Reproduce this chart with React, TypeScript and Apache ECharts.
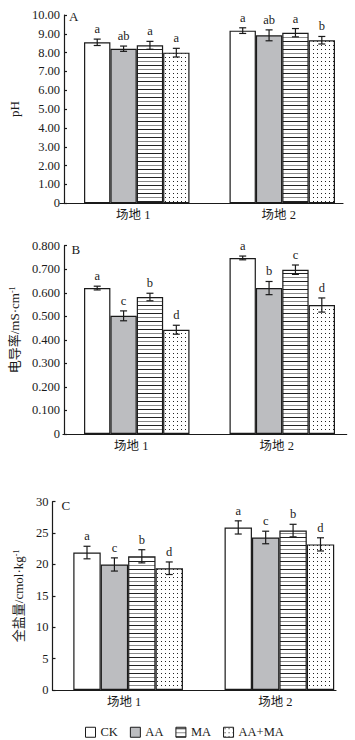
import React, { useEffect, useRef } from 'react';
import * as echarts from 'echarts';

const sites = ['场地 1', '场地 2'];
const treatments = ['CK', 'AA', 'MA', 'AA+MA'];

// Panel A: pH
const phCK = [8.55, 9.17];
const phAA = [8.21, 8.92];
const phMA = [8.39, 9.06];
const phAAMA = [8.0, 8.66];
const phErrCK = [0.17, 0.15];
const phErrAA = [0.14, 0.29];
const phErrMA = [0.21, 0.22];
const phErrAAMA = [0.23, 0.2];
const phLetCK = ['a', 'a'];
const phLetAA = ['ab', 'ab'];
const phLetMA = ['a', 'a'];
const phLetAAMA = ['a', 'b'];

// Panel B: electrical conductivity (mS/cm)
const ecCK = [0.62, 0.748];
const ecAA = [0.502, 0.62];
const ecMA = [0.582, 0.698];
const ecAAMA = [0.443, 0.548];
const ecErrCK = [0.008, 0.008];
const ecErrAA = [0.021, 0.028];
const ecErrMA = [0.016, 0.02];
const ecErrAAMA = [0.019, 0.03];
const ecLetCK = ['a', 'a'];
const ecLetAA = ['c', 'b'];
const ecLetMA = ['b', 'c'];
const ecLetAAMA = ['d', 'd'];

// Panel C: total salt (cmol/kg)
const tsCK = [21.9, 25.9];
const tsAA = [20.0, 24.3];
const tsMA = [21.3, 25.4];
const tsAAMA = [19.4, 23.2];
const tsErrCK = [1.0, 1.05];
const tsErrAA = [1.05, 1.0];
const tsErrMA = [1.05, 1.0];
const tsErrAAMA = [1.0, 1.05];
const tsLetCK = ['a', 'a'];
const tsLetAA = ['c', 'c'];
const tsLetMA = ['b', 'b'];
const tsLetAAMA = ['d', 'd'];

const FONT = "'Liberation Serif', 'Noto Sans CJK SC', serif";
const INK = '#1a1a1a';
const GAP = 0.275;

function makePattern(kind: string) {
  const c = document.createElement('canvas');
  if (kind === 'stripe') {
    c.width = 4;
    c.height = 8;
    const ctx = c.getContext('2d')!;
    ctx.fillStyle = '#ffffff';
    ctx.fillRect(0, 0, 4, 8);
    ctx.fillStyle = '#222222';
    ctx.fillRect(0, 1, 4, 1);
    ctx.fillStyle = '#8a8a8a';
    ctx.fillRect(0, 5, 4, 1);
  } else {
    c.width = 4;
    c.height = 4;
    const ctx = c.getContext('2d')!;
    ctx.fillStyle = '#ffffff';
    ctx.fillRect(0, 0, 4, 4);
    ctx.fillStyle = '#222222';
    ctx.fillRect(1, 1, 1, 1);
  }
  return { image: c.toDataURL(), repeat: 'repeat', imageWidth: c.width, imageHeight: c.height } as any;
}

export default function App() {
  const ref = useRef<HTMLDivElement>(null);
  useEffect(() => {
    if (!ref.current) return;
    const chart = echarts.init(ref.current, undefined, { renderer: 'svg' });
    const colors = ['#ffffff', '#bcbdc0', makePattern('stripe'), makePattern('dots')];

    const panels = [
      {
        vals: [phCK, phAA, phMA, phAAMA],
        errs: [phErrCK, phErrAA, phErrMA, phErrAAMA],
        lets: [phLetCK, phLetAA, phLetMA, phLetAAMA],
        left: 60, top: 15, lineW: 283, max: 10, interval: 1,
        fmt: (v: number) => (v === 0 ? '0' : v.toFixed(2)),
        name: 'pH', nameGap: 39, namePad: [0, 0, 0, 0], labelPad: [0, 7, 0, 0], labelMargin: 5,
        letter: 'A', letterX: 69, letterY: 16,
      },
      {
        vals: [ecCK, ecAA, ecMA, ecAAMA],
        errs: [ecErrCK, ecErrAA, ecErrMA, ecErrAAMA],
        lets: [ecLetCK, ecLetAA, ecLetMA, ecLetAAMA],
        left: 63, top: 245.7, lineW: 283.7, max: 0.8, interval: 0.1,
        fmt: (v: number) => (v === 0 ? '0' : v.toFixed(3)),
        name: '电导率/mS·cm{sup|-1}', nameGap: 40, namePad: [0, 0, 0, 20], labelPad: [0, 11, 0, 0], labelMargin: 6,
        letter: 'B', letterX: 71.5, letterY: 249,
      },
      {
        vals: [tsCK, tsAA, tsMA, tsAAMA],
        errs: [tsErrCK, tsErrAA, tsErrMA, tsErrAAMA],
        lets: [tsLetCK, tsLetAA, tsLetMA, tsLetAAMA],
        left: 52.5, top: 501.7, lineW: 283.5, max: 30, interval: 5,
        fmt: (v: number) => String(Math.round(v)),
        name: '全盐量/cmol·kg{sup|-1}', nameGap: 23, namePad: [0, 0, 0, 0], labelPad: [0, 8, 0, 0], labelMargin: 6,
        letter: 'C', letterX: 61.5, letterY: 505,
      },
    ];

    const grid: any[] = [];
    const xAxis: any[] = [];
    const yAxis: any[] = [];
    const series: any[] = [];
    const graphic: any[] = [];
    const H = 188.3;

    panels.forEach((p, pi) => {
      const gi = pi * 2;
      grid.push({ left: p.left, top: p.top, width: 304, height: H });
      grid.push({ left: p.left, top: p.top, width: p.lineW, height: H });
      xAxis.push({
        type: 'category', gridIndex: gi, data: sites,
        axisLine: { show: false }, axisTick: { show: false },
        axisLabel: { fontFamily: FONT, fontSize: 12.5, color: INK, margin: p.labelMargin, padding: p.labelPad },
      });
      xAxis.push({
        type: 'value', gridIndex: gi + 1, min: 0, max: 1,
        axisLine: { show: true, lineStyle: { color: INK, width: 1.2 } },
        axisTick: { show: false }, axisLabel: { show: false }, splitLine: { show: false },
      });
      yAxis.push({
        type: 'value', gridIndex: gi, min: 0, max: p.max, interval: p.interval,
        axisLine: { show: true, lineStyle: { color: INK, width: 1.2 } },
        axisTick: { show: true, inside: true, length: 3, lineStyle: { color: INK, width: 1.2 } },
        axisLabel: { fontFamily: FONT, fontSize: 12.5, color: INK, margin: 4, formatter: p.fmt },
        splitLine: { show: false },
        name: p.name, nameLocation: 'middle', nameGap: p.nameGap, nameRotate: 90,
        nameTextStyle: {
          fontFamily: FONT, fontSize: 13, color: INK, padding: p.namePad,
          rich: { sup: { fontFamily: FONT, fontSize: 8, color: INK, verticalAlign: 'top', lineHeight: 13 } },
        },
      });
      yAxis.push({ type: 'value', gridIndex: gi + 1, min: 0, max: 1, show: false });

      treatments.forEach((t, k) => {
        series.push({
          type: 'bar', name: t, xAxisIndex: gi, yAxisIndex: gi,
          data: p.vals[k], barGap: '0%', barCategoryGap: (GAP * 100) + '%',
          itemStyle: { color: colors[k], borderColor: INK, borderWidth: 1.2 },
          silent: true,
        });
      });

      const data: number[][] = [];
      const letterList: string[] = [];
      for (let k = 0; k < 4; k++) {
        for (let i = 0; i < 2; i++) {
          data.push([i, k, p.vals[k][i], p.errs[k][i]]);
          letterList.push(p.lets[k][i]);
        }
      }
      series.push({
        type: 'custom', name: 'err' + pi, xAxisIndex: gi, yAxisIndex: gi, z: 5, silent: true,
        encode: { x: 0, y: 2 },
        data,
        renderItem: (params: any, api: any) => {
          const i = api.value(0);
          const k = api.value(1);
          const v = api.value(2);
          const e = api.value(3);
          const band = api.size([1, 0])[0];
          const bw = (band * (1 - GAP)) / 4;
          const cx = api.coord([i, v])[0] + (k - 1.5) * bw;
          const yt = api.coord([i, v + e])[1];
          const yb = api.coord([i, v - e])[1];
          const cap = 3.5;
          const ls = { stroke: INK, lineWidth: 1.2 };
          return {
            type: 'group',
            children: [
              { type: 'line', shape: { x1: cx, y1: yt, x2: cx, y2: yb }, style: ls },
              { type: 'line', shape: { x1: cx - cap, y1: yt, x2: cx + cap, y2: yt }, style: ls },
              { type: 'line', shape: { x1: cx - cap, y1: yb, x2: cx + cap, y2: yb }, style: ls },
              {
                type: 'text', x: cx, y: yt - 10,
                style: {
                  text: letterList[params.dataIndex], fill: INK,
                  font: `12.5px ${FONT}`,
                  align: 'center', verticalAlign: 'middle',
                  textAlign: 'center', textVerticalAlign: 'middle',
                },
              },
            ],
          };
        },
      });

      graphic.push({
        type: 'text', x: p.letterX, y: p.letterY,
        style: {
          text: p.letter, fill: INK, font: `13px ${FONT}`,
          verticalAlign: 'middle', textVerticalAlign: 'middle',
        },
      });
    });

    chart.setOption({
      animation: false,
      grid,
      xAxis,
      yAxis,
      series,
      graphic,
      legend: {
        data: treatments,
        left: 80, top: 721,
        icon: 'rect', itemWidth: 10, itemHeight: 10, itemGap: 12,
        itemStyle: { borderColor: INK, borderWidth: 1 },
        textStyle: { fontFamily: FONT, fontSize: 12.5, color: INK },
        selectedMode: false,
      },
    });
    return () => chart.dispose();
  }, []);
  return (
    <div
      ref={ref}
      style={{ position: 'absolute', left: 0, top: 0, width: 355, height: 740, background: '#fff' }}
    />
  );
}
